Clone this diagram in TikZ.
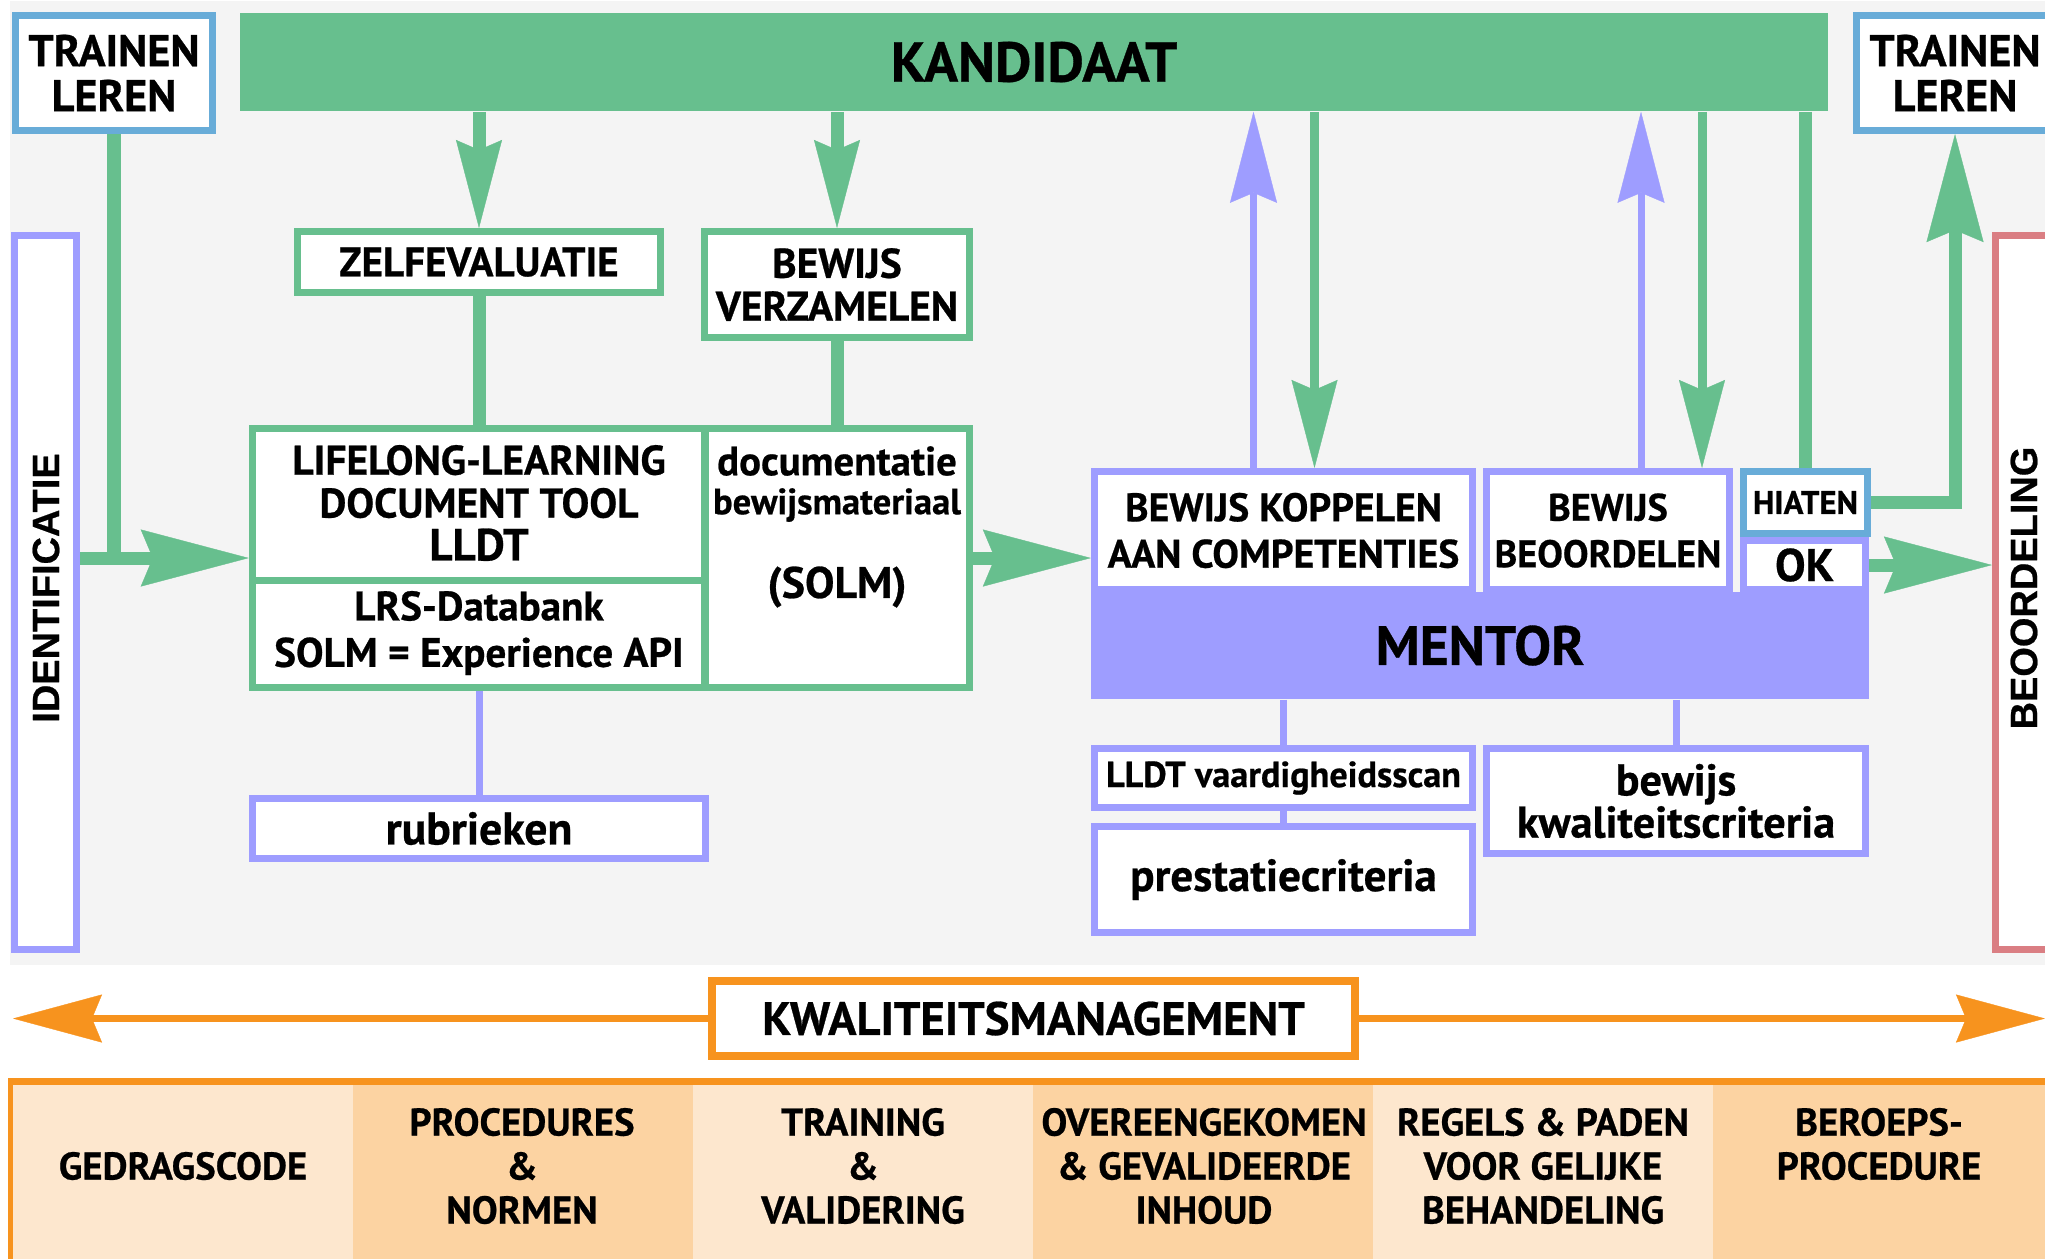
\documentclass[tikz,border=0pt]{standalone}
\usepackage{fontspec}
\setmainfont{PT Sans}[BoldFeatures={FakeBold=0.6}]
\newfontfamily\sidefont{Liberation Sans}[BoldFeatures={FakeBold=0.6}]
\usetikzlibrary{arrows.meta, positioning, calc}
\definecolor{kgreen}{HTML}{67BF8E}
\definecolor{mpurple}{HTML}{9E9DFF}
\definecolor{tblue}{HTML}{68ACD8}
\definecolor{bred}{HTML}{DA7E83}
\definecolor{korange}{HTML}{F7931E}
\definecolor{bggray}{HTML}{F4F4F4}
\definecolor{peachA}{HTML}{FDE7CE}
\definecolor{peachB}{HTML}{FCD3A2}
\newcommand{\fsize}[2]{\fontsize{#1}{#2}\selectfont\bfseries}
\newcommand{\fnorm}{\fsize{11.8}{12.2}}
\newcommand{\fside}{\sidefont\fontsize{10.8}{12}\selectfont\bfseries}
\tikzset{
  box/.style={line width=0.07cm, fill=white, inner sep=0pt, align=center, font=\fnorm},
  gbox/.style={box, draw=kgreen},
  pbox/.style={box, draw=mpurple},
  bbox/.style={box, draw=tblue},
  gline/.style={kgreen, line width=0.13cm},
  gthin/.style={kgreen, line width=0.09cm},
  pline/.style={mpurple, line width=0.07cm},
  garrow/.style={gline, -{Stealth[length=0.88cm, width=0.46cm, inset=0.1cm, line width=0.1pt]}},
  gdown/.style={gthin, -{Stealth[length=0.88cm, width=0.46cm, inset=0.1cm, line width=0.1pt]}},
  gbig/.style={gline, -{Stealth[length=1.08cm, width=0.57cm, inset=0.12cm, line width=0.1pt]}},
  pup/.style={pline, -{Stealth[length=0.91cm, width=0.47cm, inset=0.1cm, line width=0.1pt]}},
  karrow/.style={korange, line width=0.07cm, -{Stealth[length=0.89cm, width=0.48cm, inset=0.1cm, line width=0.1pt]}},
  bandtxt/.style={font=\fsize{11}{12.5}, align=center},
}

\begin{document}
\begin{tikzpicture}[x=0.01cm, y=-0.01cm]
\useasboundingbox (0,0) rectangle (2045,1259);
\clip (0,0) rectangle (2045,1259);
\fill[bggray] (10,1) rectangle (2045,965);

% kandidaat and the side boxes
\node[fill=kgreen, inner sep=0pt, minimum width=15.88cm, minimum height=0.98cm, font=\fsize{16}{17}] (kand) at (1034,62) {KANDIDAAT};
\node[bbox, font=\fsize{12.6}{12.8}, minimum width=1.97cm, minimum height=1.15cm] (trainL) at (114,73) {TRAINEN\\LEREN};
\node[bbox, font=\fsize{12.6}{12.8}, minimum width=1.97cm, minimum height=1.15cm] (trainR) at (1955,73) {TRAINEN\\LEREN};
\node[pbox, minimum width=0.62cm, minimum height=7.14cm] (ident) at (45.5,592.5) {};
\node[rotate=90, font=\fside] (identtxt) at (46,588) {IDENTIFICATIE};
\node[box, draw=bred, minimum width=0.62cm, minimum height=7.14cm] (beoordel) at (2026.5,592.5) {};
\node[rotate=90, font=\fside] (beoordeltxt) at (2024,588) {BEOORDELING};

% kandidaat side
\node[gbox, font=\fsize{11.7}{12.2}, minimum width=3.63cm, minimum height=0.61cm] (zelf) at (479,262) {ZELFEVALUATIE};
\node[gbox, minimum width=2.65cm, minimum height=1.06cm] (verz) at (837,284.5) {BEWIJS\\VERZAMELEN};
\node[gbox, minimum width=7.17cm, minimum height=2.59cm] (lldt) at (611,558) {};
\draw[kgreen, line width=0.08cm] (705,425) -- (705,691);
\draw[kgreen, line width=0.07cm] (249,580) -- (705,580);
\node[align=center, font=\fnorm] (lldttxt) at (479,503) {LIFELONG-LEARNING\\DOCUMENT TOOL\\{\fsize{12.8}{12.2}LLDT}};
\node[align=center, font=\fsize{11.7}{12.2}] (lrstxt) at (479,633) {LRS-Databank\\[1pt]SOLM = Experience API};
\node[font=\fsize{11.6}{12}] (docu) at (837,461) {documentatie};
\node[font=\fsize{10.4}{12}] (bewm) at (837,505) {bewijsmateriaal};
\node[font=\fsize{12.5}{13}] (solm) at (837,587) {(SOLM)};
\node[pbox, font=\fsize{13}{13}, minimum width=4.53cm, minimum height=0.60cm] (rubr) at (479,828.5) {rubrieken};

% mentor side
\node[fill=mpurple, inner sep=0pt, minimum width=7.78cm, minimum height=1.07cm, font=\fsize{15.7}{16}] (mentor) at (1480,645.5) {MENTOR};
\node[pbox, font=\fsize{11.3}{12.2}, minimum width=3.78cm, minimum height=1.18cm] (koppel) at (1283.5,530.5) {BEWIJS KOPPELEN\\[1pt]AAN COMPETENTIES};
\node[pbox, font=\fsize{10.9}{12.2}, minimum width=2.43cm, minimum height=1.18cm] (beoor) at (1608,530.5) {BEWIJS\\[1pt]BEOORDELEN};
\node[pbox, font=\fsize{13}{13}, minimum width=1.22cm, minimum height=0.49cm] (ok) at (1804.5,565) {OK};
\node[bbox, font=\fsize{9.3}{10}, minimum width=1.24cm, minimum height=0.62cm] (hiaten) at (1805.5,502.5) {HIATEN};
\node[pbox, font=\fsize{10.3}{11}, minimum width=3.78cm, minimum height=0.59cm] (scan) at (1283.5,778) {LLDT vaardigheidsscan};
\node[pbox, font=\fsize{12.8}{13}, minimum width=3.78cm, minimum height=1.06cm] (prest) at (1283.5,879.5) {prestatiecriteria};
\node[pbox, font=\fsize{12.6}{12}, minimum width=3.79cm, minimum height=1.05cm] (kwal) at (1676,801) {bewijs\\kwaliteitscriteria};

% connectors
\draw[garrow] (kand.south -| zelf.north) -- (zelf.north);
\draw[garrow] (kand.south -| verz.north) -- (verz.north);
\draw[gline] (zelf.south) -- (zelf.south |- lldt.north);
\draw[gline] (verz.south) -- (verz.south |- lldt.north);
\draw[pline] (rubr.north |- lldt.south) -- (rubr.north);
\draw[gline] (trainL.south) -- (trainL.south |- lldt.west);
\draw[gbig] (ident.east |- lldt.west) -- (lldt.west);
\draw[gbig] (lldt.east) -- (lldt.east -| koppel.west);
\draw[gbig] (ok.east) -- (ok.east -| beoordel.west);
\coordinate (kopUp) at ($(koppel.north)+(-30,0)$);
\coordinate (kopDn) at ($(koppel.north)+(31,0)$);
\coordinate (beoUp) at ($(beoor.north)+(33,0)$);
\coordinate (beoDn) at ($(beoor.north)+(94,0)$);
\draw[pup] (kopUp) -- (kopUp |- kand.south);
\draw[gdown] (kopDn |- kand.south) -- (kopDn);
\draw[pup] (beoUp) -- (beoUp |- kand.south);
\draw[gdown] (beoDn |- kand.south) -- (beoDn);
\draw[gline] (kand.south -| hiaten.north) -- (hiaten.north);
\draw[gbig] (hiaten.east) -| (trainR.south);
\draw[pline] (scan.north |- mentor.south) -- (scan.north);
\draw[pline] (scan.south) -- (prest.north);
\draw[pline] (kwal.north |- mentor.south) -- (kwal.north);

% kwaliteitsmanagement
\node[box, draw=korange, line width=0.08cm, font=\fsize{13.3}{14}, minimum width=6.43cm, minimum height=0.75cm] (km) at (1033.5,1018.5) {KWALITEITSMANAGEMENT};
\coordinate (kmL) at (13,1018.5);
\coordinate (kmR) at (2045,1018.5);
\draw[karrow] (km.west) -- (kmL);
\draw[karrow] (km.east) -- (kmR);

% band
\foreach \i/\c in {0/peachA,1/peachB,2/peachA,3/peachB,4/peachA,5/peachB}
  \fill[\c] (13+340*\i,1085) rectangle ++(340,174);
\fill[korange] (8,1078) rectangle (2045,1085);
\fill[korange] (8,1078) rectangle (13,1259);
\node[bandtxt] (col1) at (183,1166) {GEDRAGSCODE};
\node[bandtxt] (col2) at (522,1166) {PROCEDURES\\\&\\NORMEN};
\node[bandtxt] (col3) at (863,1166) {TRAINING\\\&\\VALIDERING};
\node[bandtxt] (col4) at (1204,1166) {OVEREENGEKOMEN\\\& GEVALIDEERDE\\INHOUD};
\node[bandtxt] (col5) at (1543,1166) {REGELS \& PADEN\\VOOR GELIJKE\\BEHANDELING};
\node[bandtxt] (col6) at (1879,1144) {BEROEPS-\\PROCEDURE};
\end{tikzpicture}
\end{document}
